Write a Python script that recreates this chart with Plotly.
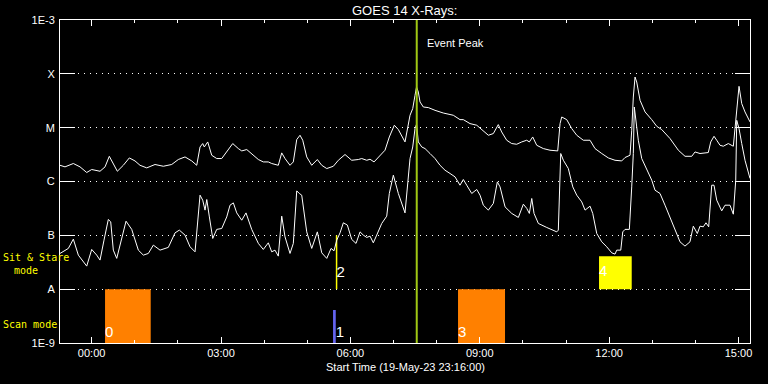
import pandas as pd
import plotly.graph_objects as go

# ---------------- data ----------------
BASE = pd.Timestamp("2023-05-20 00:00:00")
X_START = "2023-05-19 23:16:00"
X_END = "2023-05-20 15:16:00"

# long channel (1-8 A): hours after 20-May 00:00, flux W/m^2
long_h = [-0.733, -0.617, -0.424, -0.269, -0.114, 0.002, 0.195, 0.311, 0.410, 0.503,
          0.596, 0.735, 0.874, 1.006, 1.122, 1.278, 1.470, 1.663, 1.857, 2.010,
          2.166, 2.321, 2.437, 2.514, 2.576, 2.613, 2.692, 2.785, 2.901, 3.017,
          3.133, 3.272, 3.402, 3.481, 3.597, 3.712, 3.866, 3.981, 4.097, 4.176,
          4.329, 4.408, 4.484, 4.600, 4.677, 4.756, 4.832, 4.895, 4.988, 5.104,
          5.234, 5.336, 5.452, 5.605, 5.721, 5.876, 6.031, 6.184, 6.263, 6.379,
          6.456, 6.549, 6.688, 6.803, 6.903, 7.019, 7.112, 7.267, 7.383, 7.446,
          7.499, 7.534, 7.576, 7.615, 7.692, 7.808, 7.963, 8.155, 8.387, 8.542,
          8.619, 8.774, 8.930, 9.046, 9.199, 9.315, 9.430, 9.509, 9.625, 9.741,
          9.857, 9.973, 10.089, 10.150, 10.228, 10.321, 10.474, 10.629, 10.808, 10.862,
          10.901, 11.017, 11.133, 11.249, 11.402, 11.557, 11.673, 11.829, 11.982, 12.137,
          12.292, 12.369, 12.485, 12.524, 12.561, 12.601, 12.640, 12.717, 12.833, 12.988,
          13.104, 13.220, 13.412, 13.605, 13.760, 13.916, 13.992, 14.108, 14.300, 14.356,
          14.432, 14.495, 14.571, 14.648, 14.764, 14.880, 14.936, 14.982, 15.012, 15.075,
          15.151, 15.267]
long_flux = [2.0e-6, 1.87e-6, 2.16e-6, 1.87e-6, 1.47e-6, 1.67e-6, 1.55e-6, 1.87e-6, 2.94e-6, 2.16e-6,
             1.55e-6, 2.0e-6, 2.74e-6, 2.41e-6, 2.0e-6, 1.79e-6, 2.07e-6, 1.92e-6, 2.07e-6, 2.56e-6,
             2.86e-6, 2.41e-6, 2.0e-6, 4.38e-6, 5.07e-6, 4.38e-6, 5.43e-6, 3.07e-6, 2.67e-6, 2.67e-6,
             3.54e-6, 5.07e-6, 4.09e-6, 3.70e-6, 3.92e-6, 3.21e-6, 2.56e-6, 2.31e-6, 2.31e-6, 2.16e-6,
             2.0e-6, 3.40e-6, 2.67e-6, 2.0e-6, 2.31e-6, 6.01e-6, 7.23e-6, 5.84e-6, 2.86e-6, 2.0e-6,
             2.56e-6, 2.0e-6, 1.74e-6, 1.92e-6, 2.48e-6, 3.17e-6, 2.48e-6, 2.56e-6, 2.67e-6, 2.48e-6,
             2.59e-6, 2.31e-6, 3.07e-6, 3.81e-6, 6.72e-6, 1.11e-5, 9.22e-6, 5.43e-6, 1.70e-5, 2.26e-5,
             3.99e-5, 5.69e-5, 4.59e-5, 3.0e-5, 2.42e-5, 2.36e-5, 2.10e-5, 1.87e-5, 1.70e-5, 1.41e-5,
             1.41e-5, 1.19e-5, 1.11e-5, 9.22e-6, 7.23e-6, 7.77e-6, 1.14e-5, 8.32e-6, 5.84e-6, 5.07e-6,
             4.92e-6, 5.43e-6, 5.84e-6, 5.43e-6, 6.72e-6, 4.71e-6, 4.09e-6, 3.81e-6, 3.70e-6, 1.19e-5,
             1.58e-5, 1.41e-5, 9.62e-6, 7.23e-6, 5.84e-6, 5.84e-6, 4.09e-6, 3.31e-6, 2.74e-6, 2.48e-6,
             2.41e-6, 2.79e-6, 3.07e-6, 8.95e-6, 3.71e-5, 8.72e-5, 7.05e-5, 3.22e-5, 1.96e-5, 1.41e-5,
             1.06e-5, 9.22e-6, 6.28e-6, 3.81e-6, 2.94e-6, 2.94e-6, 3.54e-6, 3.31e-6, 3.45e-6, 5.43e-6,
             6.92e-6, 5.84e-6, 4.71e-6, 4.52e-6, 5.07e-6, 4.52e-6, 1.37e-5, 4.29e-5, 5.86e-5, 2.80e-5,
             1.96e-5, 1.28e-5]

# short channel (0.5-4 A)
short_h = [-0.733, -0.540, -0.424, -0.308, -0.114, 0.002, 0.118, 0.195, 0.287, 0.387,
           0.443, 0.503, 0.582, 0.698, 0.798, 0.930, 1.083, 1.199, 1.315, 1.431,
           1.586, 1.779, 1.934, 2.034, 2.166, 2.282, 2.398, 2.514, 2.576, 2.630,
           2.670, 2.730, 2.809, 2.901, 3.017, 3.133, 3.209, 3.286, 3.365, 3.481,
           3.580, 3.712, 3.866, 3.981, 4.097, 4.176, 4.252, 4.329, 4.408, 4.484,
           4.600, 4.677, 4.756, 4.816, 4.872, 4.988, 5.104, 5.234, 5.336, 5.452,
           5.552, 5.621, 5.684, 5.760, 5.837, 5.930, 6.031, 6.131, 6.224, 6.300,
           6.379, 6.456, 6.532, 6.611, 6.727, 6.843, 6.903, 6.996, 7.112, 7.267,
           7.344, 7.383, 7.446, 7.499, 7.534, 7.576, 7.655, 7.731, 7.847, 7.963,
           8.079, 8.195, 8.311, 8.426, 8.542, 8.619, 8.698, 8.814, 8.930, 9.007,
           9.083, 9.199, 9.315, 9.408, 9.471, 9.587, 9.742, 9.895, 10.011, 10.090,
           10.150, 10.206, 10.259, 10.359, 10.554, 10.786, 10.822, 10.878, 10.939, 11.054,
           11.157, 11.249, 11.365, 11.442, 11.558, 11.620, 11.713, 11.829, 11.945, 12.061,
           12.137, 12.177, 12.270, 12.316, 12.369, 12.469, 12.524, 12.561, 12.584, 12.617,
           12.677, 12.756, 12.872, 12.988, 13.064, 13.180, 13.296, 13.412, 13.528, 13.644,
           13.759, 13.875, 13.952, 14.045, 14.107, 14.184, 14.246, 14.309, 14.379, 14.432,
           14.495, 14.611, 14.687, 14.803, 14.880, 14.936, 14.959, 15.012, 15.075, 15.151,
           15.267]
short_flux = [4.61e-8, 5.71e-8, 8.50e-8, 4.29e-8, 2.68e-8, 5.47e-8, 4.29e-8, 3.47e-8, 8.15e-8, 1.97e-7,
              1.78e-7, 5.31e-8, 3.73e-8, 9.38e-8, 1.83e-7, 1.29e-7, 5.31e-8, 4.29e-8, 4.61e-8, 6.58e-8,
              5.31e-8, 5.97e-8, 1.11e-7, 1.25e-7, 1.01e-7, 6.12e-8, 4.94e-8, 5.57e-7, 4.50e-7, 2.94e-7,
              4.63e-7, 2.20e-7, 8.75e-8, 1.29e-7, 1.34e-7, 2.20e-7, 3.63e-7, 4.01e-7, 2.61e-7, 1.91e-7,
              2.61e-7, 1.29e-7, 7.08e-8, 5.47e-8, 7.26e-8, 4.94e-8, 5.31e-8, 4.11e-8, 2.27e-7, 9.38e-8,
              4.61e-8, 7.08e-8, 6.70e-7, 5.99e-7, 5.57e-7, 1.16e-7, 5.71e-8, 1.16e-7, 4.73e-8, 3.73e-8,
              5.71e-8, 5.16e-8, 8.15e-8, 1.11e-7, 1.71e-7, 1.55e-7, 8.40e-8, 7.08e-8, 1.16e-7, 1.01e-7,
              9.14e-8, 9.66e-8, 7.26e-8, 1.01e-7, 1.66e-7, 2.27e-7, 5.99e-7, 1.31e-6, 5.99e-7, 2.61e-7,
              1.22e-6, 2.67e-6, 4.38e-6, 9.62e-6, 1.16e-5, 5.43e-6, 4.38e-6, 4.09e-6, 3.31e-6, 2.67e-6,
              2.0e-6, 1.62e-6, 1.41e-6, 1.22e-6, 8.54e-7, 1.09e-6, 8.54e-7, 5.99e-7, 7.11e-7, 5.57e-7,
              3.63e-7, 2.94e-7, 3.91e-7, 9.83e-7, 7.94e-7, 3.38e-7, 2.55e-7, 2.15e-7, 3.79e-7, 3.16e-7,
              2.55e-7, 4.84e-7, 2.55e-7, 1.66e-7, 1.40e-7, 1.16e-7, 1.25e-7, 3.31e-6, 2.48e-6, 1.74e-6,
              7.94e-7, 5.57e-7, 4.18e-7, 2.94e-7, 3.48e-7, 2.55e-7, 1.08e-7, 7.57e-8, 6.12e-8, 4.73e-8,
              4.48e-8, 5.31e-8, 5.31e-8, 1.16e-7, 1.29e-7, 1.29e-7, 7.94e-7, 3.31e-6, 2.42e-5, 1.58e-5,
              5.84e-6, 2.67e-6, 1.62e-6, 1.06e-6, 6.90e-7, 5.99e-7, 3.63e-7, 2.20e-7, 1.34e-7, 7.57e-8,
              6.31e-8, 7.57e-8, 1.48e-7, 1.08e-7, 1.48e-7, 1.44e-7, 1.71e-7, 1.44e-7, 8.54e-7, 8.54e-7,
              4.50e-7, 2.85e-7, 3.63e-7, 3.63e-7, 2.47e-7, 1.06e-6, 1.37e-5, 9.62e-6, 5.07e-6, 2.48e-6,
              1.14e-6]

# y-axis levels
y_tickvals = [1e-9, 1e-8, 1e-7, 1e-6, 1e-5, 1e-4, 1e-3]
y_ticktext = ["1E-9", "A", "B", "C", "M", "X", "1E-3"]

# event peak time (hours)
event_peak_h = 7.539

# scan-mode blocks (orange)
scan_start_h = [0.311, 8.496]
scan_end_h = [1.370, 9.586]
scan_labels = ["0", "3"]
scan_top = 1e-8

# short scan marker (blue)
blue_start_h, blue_end_h, blue_top, blue_label = 5.598, 5.661, 4.1e-9, "1"

# sit & stare marker (yellow line)
ss_line_h, ss_line_lo, ss_line_hi, ss_line_label = 5.680, 1e-8, 1e-7, "2"

# sit & stare block (yellow)
ss_start_h, ss_end_h, ss_top, ss_label = 11.766, 12.524, 4.1e-8, "4"

Y_BOTTOM = 1e-9


def tt(hours):
    if isinstance(hours, (list, tuple)):
        return [BASE + pd.to_timedelta(h, unit="h") for h in hours]
    return BASE + pd.to_timedelta(hours, unit="h")


def rect(x0, x1, y0, y1, color):
    return go.Scatter(x=tt([x0, x1, x1, x0, x0]), y=[y0, y0, y1, y1, y0],
                      mode="lines", fill="toself", fillcolor=color,
                      line=dict(width=0, color=color), hoverinfo="skip")


fig = go.Figure()

# blocks
for s, e in zip(scan_start_h, scan_end_h):
    fig.add_trace(rect(s, e, Y_BOTTOM, scan_top, "#ff8000"))
fig.add_trace(rect(blue_start_h, blue_end_h, Y_BOTTOM, blue_top, "#6464f0"))
fig.add_trace(rect(ss_start_h, ss_end_h, scan_top, ss_top, "#ffff00"))
fig.add_trace(go.Scatter(x=tt([ss_line_h, ss_line_h]), y=[ss_line_lo, ss_line_hi],
                         mode="lines", line=dict(color="#ffff00", width=1.5), hoverinfo="skip"))

# curves
fig.add_trace(go.Scatter(x=tt(long_h), y=long_flux, mode="lines",
                         line=dict(color="white", width=1), hoverinfo="skip"))
fig.add_trace(go.Scatter(x=tt(short_h), y=short_flux, mode="lines",
                         line=dict(color="white", width=1), hoverinfo="skip"))

# block labels
lab_font = dict(family="Liberation Sans", size=15, color="white")
fig.add_trace(go.Scatter(
    x=tt(scan_start_h + [blue_end_h]),
    y=[1.55e-9] * (len(scan_labels) + 1),
    text=scan_labels + [blue_label], mode="text", textposition="middle right",
    textfont=lab_font, hoverinfo="skip"))
fig.add_trace(go.Scatter(
    x=tt([ss_line_h, ss_start_h]), y=[2.0e-8, 2.1e-8],
    text=[ss_line_label, ss_label], mode="text", textposition="middle right",
    textfont=lab_font, hoverinfo="skip"))

# event peak line
peak_t = tt(event_peak_h)
fig.add_shape(type="line", xref="x", yref="paper", x0=peak_t, x1=peak_t, y0=0, y1=1,
              line=dict(color="#a0c814", width=2))

fig.add_annotation(x=peak_t, y=-3.43, xref="x", yref="y", text="Event Peak",
                   showarrow=False, xanchor="left", xshift=8,
                   font=dict(family="Liberation Sans", size=11, color="white"))

# left-side mode labels
yellow_font = dict(family="DejaVu Sans Mono", size=10, color="#ffff00")
fig.add_annotation(x=-0.085, y=-7.42, xref="paper", yref="y", text="Sit & Stare",
                   showarrow=False, xanchor="left", font=yellow_font)
fig.add_annotation(x=-0.069, y=-7.66, xref="paper", yref="y", text="mode",
                   showarrow=False, xanchor="left", font=yellow_font)
fig.add_annotation(x=-0.085, y=-8.65, xref="paper", yref="y", text="Scan mode",
                   showarrow=False, xanchor="left", font=yellow_font)

# x title
fig.add_annotation(x=0.5, y=-0.074, xref="paper", yref="paper",
                   text="Start Time (19-May-23 23:16:00)", showarrow=False,
                   yanchor="middle", font=dict(family="Liberation Sans", size=11, color="white"))

fig.update_layout(
    width=768, height=384,
    margin=dict(l=60, r=18, t=20, b=41),
    paper_bgcolor="black", plot_bgcolor="black",
    showlegend=False,
    hovermode=False,
    font=dict(family="Liberation Sans", size=11, color="white"),
    title=dict(text="GOES 14 X-Rays:", x=0.527, xanchor="center", y=0.974, yanchor="middle",
               font=dict(family="Liberation Sans", size=13, color="white")),
    xaxis=dict(type="date", range=[X_START, X_END],
               tick0="2023-05-20 00:00:00", dtick=3 * 3600000, tickformat="%H:%M",
               ticks="inside", ticklen=6, tickcolor="white", tickwidth=1,
               minor=dict(dtick=3600000, tick0="2023-05-20 00:00:00", ticks="inside",
                          ticklen=3, tickcolor="white", showgrid=False),
               showgrid=False, showline=True, linecolor="white", linewidth=1,
               mirror="allticks", zeroline=False,
               tickfont=dict(family="Liberation Sans", size=11, color="white")),
    yaxis=dict(type="log", range=[-9, -3], tickvals=y_tickvals, ticktext=y_ticktext,
               ticks="inside", ticklen=15, tickcolor="white", tickwidth=1,
               showgrid=True, gridcolor="white", gridwidth=1, griddash="1px,5px",
               showline=True, linecolor="white", linewidth=1, mirror="allticks",
               zeroline=False, ticklabelstandoff=2,
               tickfont=dict(family="Liberation Sans", size=11, color="white")),
)

fig.write_html("out.html",
               config={"displayModeBar": False, "staticPlot": True},
               post_script="document.body.style.margin='0px';document.body.style.background='black';")
